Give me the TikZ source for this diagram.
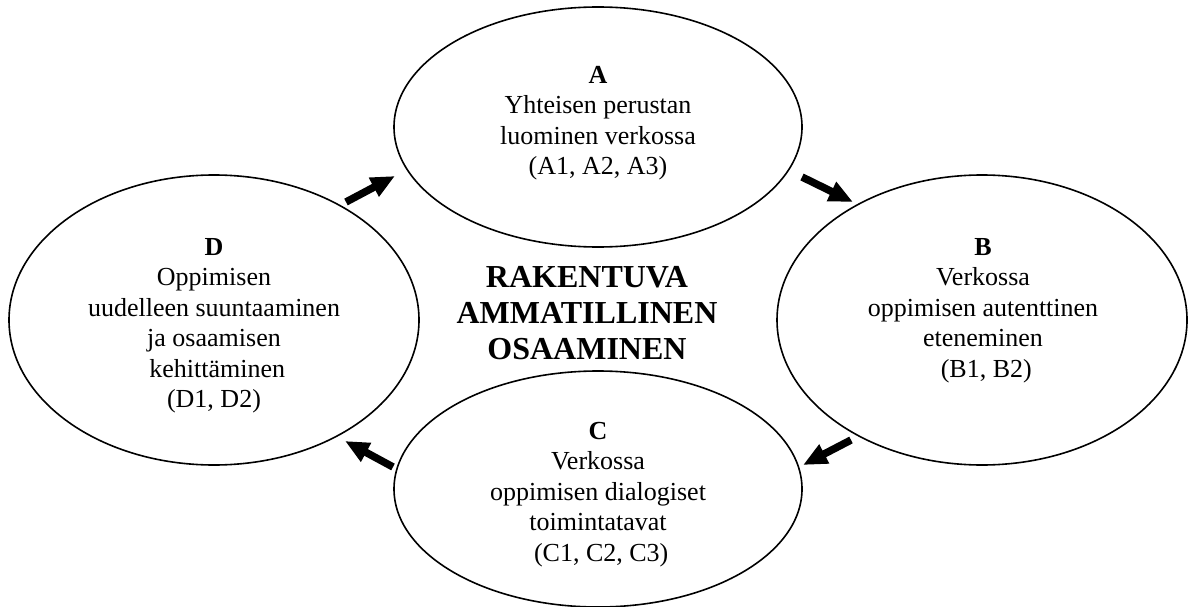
\documentclass[tikz,border=0pt]{standalone}
\usepackage{fontspec}
\setmainfont{Liberation Serif}
\usetikzlibrary{shapes.geometric,arrows.meta}
\begin{document}
\begin{tikzpicture}[x=1pt,y=-1pt,
  phase/.style={ellipse, draw, line width=1.6pt, inner sep=0pt},
  phasetext/.style={align=center, anchor=north, inner sep=0pt,
    font=\fontsize{26}{30.5}\selectfont},
  coretext/.style={align=center, anchor=north, inner sep=0pt,
    font=\fontsize{32}{36}\selectfont\bfseries},
  flow/.style={line width=7.5pt, -{Triangle[length=24pt,width=20pt]}}]
\useasboundingbox (0,0) rectangle (1193,607);

% the four phases of the cycle
\node[phase, minimum width=408pt, minimum height=240pt] (A) at (598,127) {};
\node[phase, minimum width=410pt, minimum height=290pt] (B) at (982,320) {};
\node[phase, minimum width=408pt, minimum height=236pt] (C) at (598,489) {};
\node[phase, minimum width=410pt, minimum height=290pt] (D) at (214,320) {};

\node[phasetext] (At) at (598,66)
  {\textbf{A}\\Yhteisen perustan\\luominen verkossa\\(A1, A2, A3)};
\node[phasetext] (Bt) at (983,238)
  {\textbf{B}\\Verkossa\\oppimisen autenttinen\\eteneminen\\\hspace*{0.25em}(B1, B2)};
\node[phasetext] (Ct) at (598,422)
  {\textbf{C}\\Verkossa\\oppimisen dialogiset\\toimintatavat\\\hspace*{0.25em}(C1, C2, C3)};
\node[phasetext] (Dt) at (214,238)
  {\textbf{D}\\Oppimisen\\uudelleen suuntaaminen\\ja osaamisen\\\hspace*{0.25em}kehittäminen\\(D1, D2)};

% centre title
\node[coretext] (core) at (587,266)
  {RAKENTUVA\\AMMATILLINEN\\OSAAMINEN};

% block arrows between the phases
\coordinate (dA) at (346,202);
\coordinate (aD) at (395,176);
\coordinate (aB) at (802,177);
\coordinate (bA) at (853,202);
\coordinate (bC) at (851,440);
\coordinate (cB) at (803,465);
\coordinate (cD) at (393,467);
\coordinate (dC) at (345,441);

\draw[flow] (dA) -- (aD);
\draw[flow] (aB) -- (bA);
\draw[flow] (bC) -- (cB);
\draw[flow] (cD) -- (dC);
\end{tikzpicture}
\end{document}
